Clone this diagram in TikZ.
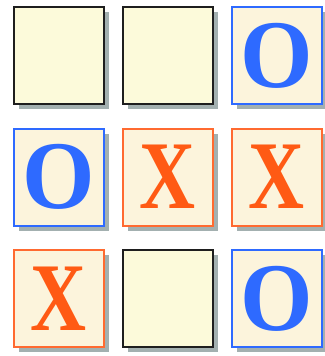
\documentclass[tikz,border=0pt]{standalone}
\usepackage{fontspec}
\setmainfont{Liberation Serif}
\usetikzlibrary{positioning, shadows}
\definecolor{tbcream}{HTML}{FCFADA}
\definecolor{tbpaper}{HTML}{FCF4DC}
\definecolor{tbblue}{HTML}{2E6AFF}
\definecolor{tborange}{HTML}{FF5A14}
\definecolor{tbedge}{HTML}{FF6A30}
\definecolor{tbshadow}{HTML}{A3B0B0}
\definecolor{tbblack}{HTML}{1E1E1E}

\begin{document}
\begin{tikzpicture}[x=1pt, y=1pt, on grid, node distance=121.5pt and 109pt,
          cell/.style={minimum width=90pt, minimum height=97pt, inner sep=0pt,
            drop shadow={shadow xshift=5pt, shadow yshift=-5pt, fill=tbshadow, opacity=1},
            font=\fontsize{97}{97}\selectfont\bfseries},
          free/.style={cell, draw=tbblack, line width=2pt, fill=tbcream},
          omark/.style={cell, draw=tbblue, line width=2pt, fill=tbpaper, text=tbblue},
          xmark/.style={cell, draw=tbedge, line width=2pt, fill=tbpaper, text=tborange}]
        \useasboundingbox (0,0) rectangle (324,-356);
        % top row
        \node[free] (c11) at (58.5,-55.5) {};
        \node[free, right=of c11] (c12) {};
        \node[omark, right=of c12] (c13) {\scalebox{0.96}[1]{O}};
        % middle row
        \node[omark, below=of c11] (c21) {\scalebox{0.96}[1]{O}};
        \node[xmark, right=of c21] (c22) {\scalebox{0.8}[1]{X}};
        \node[xmark, right=of c22] (c23) {\scalebox{0.8}[1]{X}};
        % bottom row
        \node[xmark, below=of c21] (c31) {\scalebox{0.8}[1]{X}};
        \node[free, right=of c31] (c32) {};
        \node[omark, right=of c32] (c33) {\scalebox{0.96}[1]{O}};
      \end{tikzpicture}
\end{document}
